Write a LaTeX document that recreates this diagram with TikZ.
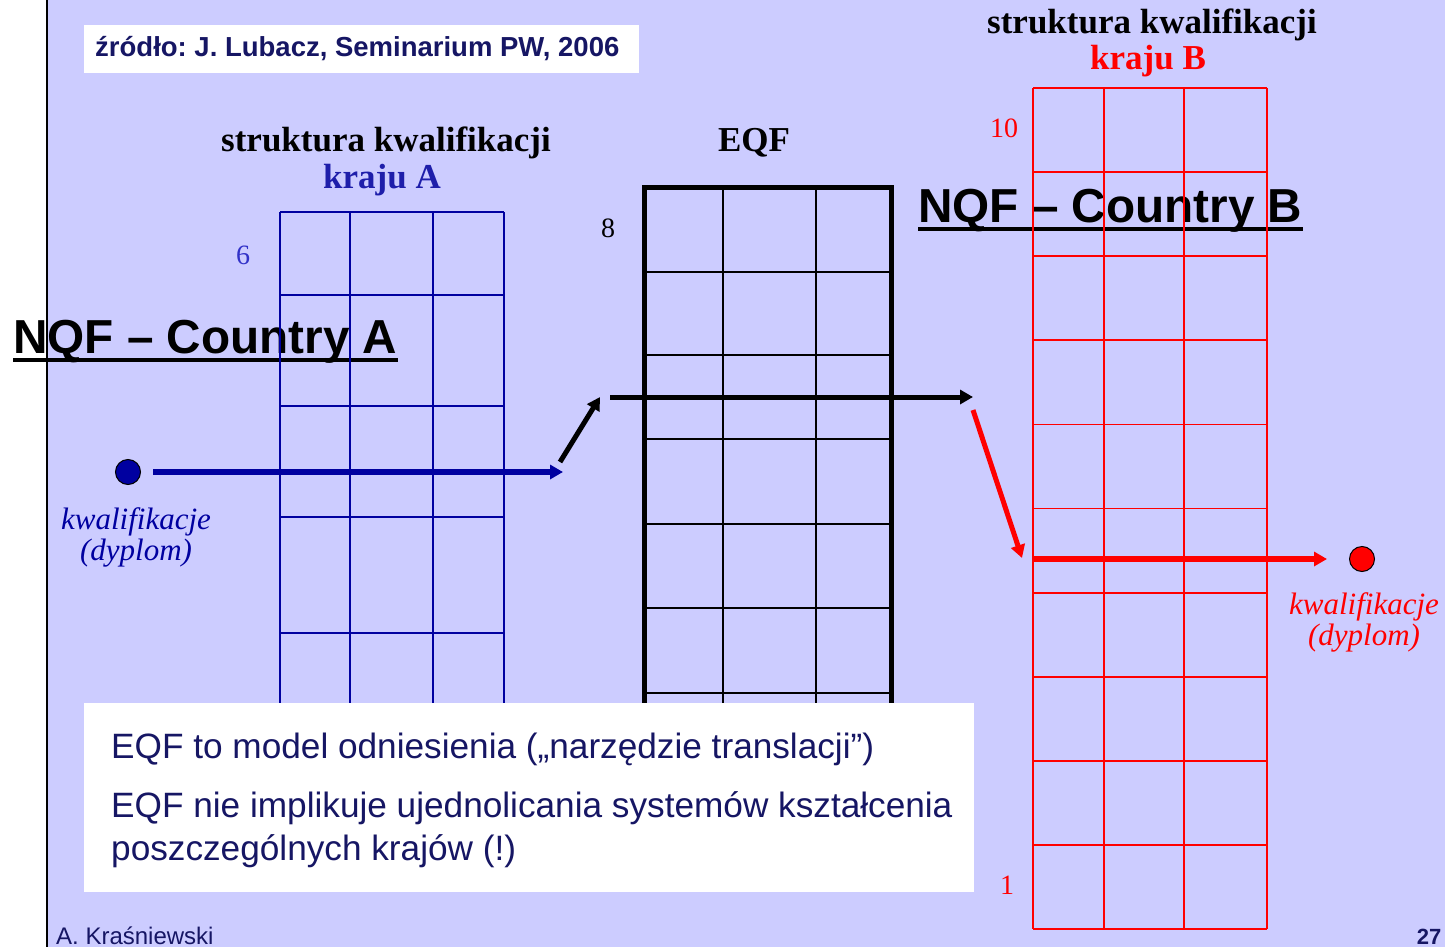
\documentclass[tikz,border=0pt]{standalone}
\usepackage{fontspec}
\setmainfont{Liberation Serif}
\setsansfont{Liberation Sans}
\usepackage{tikz}
\usetikzlibrary{arrows.meta}
\frenchspacing

\definecolor{lavender}{RGB}{204,204,255}
\definecolor{gridblue}{RGB}{0,0,160}
\definecolor{navy}{RGB}{22,22,100}
\definecolor{krajublue}{RGB}{30,30,170}
\definecolor{numblue}{RGB}{50,50,200}

\begin{document}
\begin{tikzpicture}[x=1pt,y=-1pt,
    title/.style={font=\fontsize{35}{40}\selectfont\bfseries},
    levelnum/.style={font=\fontsize{28}{32}\selectfont},
    nqf/.style={font=\sffamily\bfseries\fontsize{47.7}{56}\selectfont, inner sep=0pt, anchor=base west},
    qual/.style={font=\itshape\fontsize{31}{31}\selectfont, align=center},
    dot/.style={circle, draw=black, line width=1pt, minimum size=25pt, inner sep=0pt},
    flow/.style={line width=5pt, -{Triangle[length=13pt,width=14pt]}},
    textbox/.style={fill=white, inner sep=0pt, anchor=north west},
    note/.style={font=\sffamily\fontsize{35.2}{40}\selectfont, text=navy, anchor=base west, inner sep=0pt},
    gridA/.style={gridblue, line width=1.5pt},
    eqfline/.style={black, line width=2pt},
    gridB/.style={red, line width=1.8pt}
  ]
  \useasboundingbox (0,0) rectangle (1445,947);
  \fill[lavender] (47,0) rectangle (1445,947);
  \draw[line width=2.5pt] (47,0) -- (47,947);

  % headings
  \node[title] (titleA) at (386,143) {struktura kwalifikacji};
  \node[title, text=krajublue] (krajuA) at (382,180) {kraju A};
  \node[title] (eqf) at (754,143) {EQF};
  \node[title] (titleB) at (1152,25) {struktura kwalifikacji};
  \node[title, text=red] (krajuB) at (1148,61) {kraju B};

  \node[nqf] (nqfA) at (13,353) {NQF -- Country A};
  \draw[line width=3.5pt] ([yshift=-7pt]nqfA.base west) -- ([yshift=-7pt]nqfA.base east);
  \node[nqf] (nqfB) at (918,222) {NQF -- Country B};
  \draw[line width=3.5pt] ([yshift=-7pt]nqfB.base west) -- ([yshift=-7pt]nqfB.base east);

  % grids
  \foreach \x in {280,350,433,504} \draw[gridA] (\x,212) -- (\x,780);
  \foreach \y in {212,295,406,517,633,750} \draw[gridA] (280,\y) -- (504,\y);

  \foreach \x in {723,816} \draw[eqfline] (\x,187) -- (\x,870);
  \foreach \y in {272,355,439,524,608,693,777} \draw[eqfline] (644,\y) -- (891,\y);
  \draw[line width=5pt] (644,870) -- (644,187) -- (891,187) -- (891,870);

  \foreach \x in {1033,1104,1184,1267} \draw[gridB] (\x,88) -- (\x,929);
  \foreach \i in {0,...,10} \draw[gridB] (1033,{88+84.1*\i}) -- (1267,{88+84.1*\i});

  \node[levelnum, text=numblue] (six) at (243,255) {6};
  \node[levelnum] (eight) at (608,228) {8};
  \node[levelnum, text=red] (ten) at (1004,128) {10};
  \node[levelnum, text=red] (one) at (1007,885) {1};

  % qualifications and flow
  \node[dot, fill=gridblue] (dotA) at (128,472) {};
  \node[qual, text=gridblue] (qualA) at (136,537) {kwalifikacje\\(dyplom)};
  \node[dot, fill=red] (dotB) at (1362,559) {};
  \node[qual, text=red] (qualB) at (1364,622) {kwalifikacje\\(dyplom)};

  \coordinate (aEnd) at (563,472);
  \coordinate (upStart) at (560,462);
  \coordinate (upEnd) at (600,397);
  \coordinate (eqfStart) at (610,397);
  \coordinate (eqfEnd) at (973,397);
  \coordinate (downStart) at (973,410);
  \coordinate (downEnd) at (1022,558);
  \coordinate (bStart) at (1033,559);

  \draw[flow, gridblue, line width=6pt, shorten <=12pt] (dotA) -- (aEnd);
  \draw[flow, black] (upStart) -- (upEnd);
  \draw[flow, black] (eqfStart) -- (eqfEnd);
  \draw[flow, red] (downStart) -- (downEnd);
  \draw[flow, red, line width=6pt, shorten >=22pt] (bStart) -- (dotB);

  % boxes
  \node[textbox, minimum width=555pt, minimum height=48pt] (srcbox) at (84,25) {};
  \node[font=\sffamily\bfseries\fontsize{27.5}{32}\selectfont, text=navy, anchor=west, inner sep=0pt] (src) at (95,49) {źródło: J. Lubacz, Seminarium PW, 2006};

  \node[textbox, minimum width=890pt, minimum height=189pt] (notebox) at (84,703) {};
  \node[note] (note1) at (111,758) {EQF to model odniesienia („narzędzie translacji”)};
  \node[note] (note2) at (111,817) {EQF nie implikuje ujednolicania systemów kształcenia};
  \node[note] (note3) at (111,860) {poszczególnych krajów (!)};

  \node[font=\sffamily\fontsize{24}{28}\selectfont, text=navy, anchor=west, inner sep=0pt] (author) at (56,936) {A. Kraśniewski};
  \node[font=\sffamily\bfseries\fontsize{22}{26}\selectfont, text=navy, inner sep=0pt] (page) at (1429,937) {27};
\end{tikzpicture}
\end{document}
